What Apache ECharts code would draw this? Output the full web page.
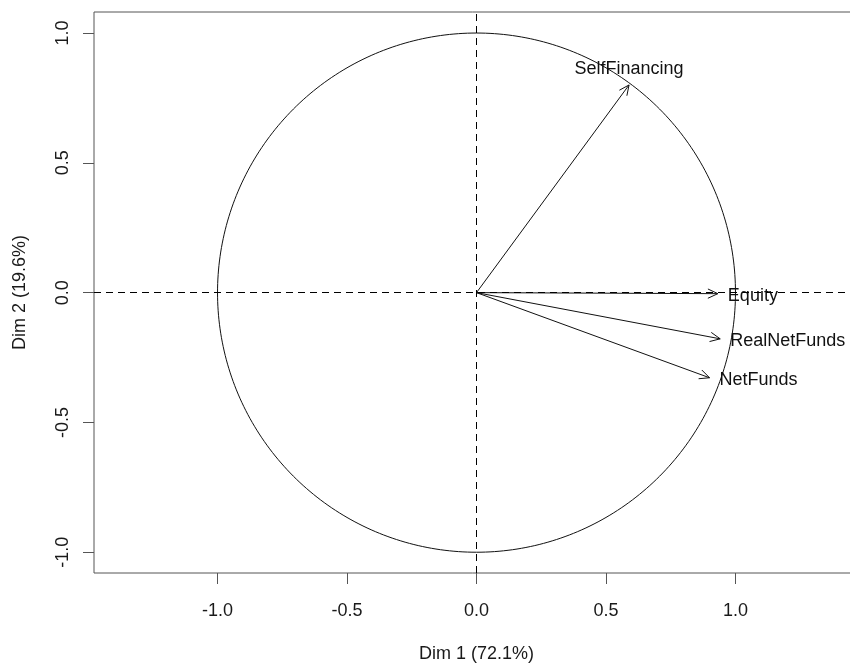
<!DOCTYPE html>
<html>
<head>
<meta charset="utf-8">
<script src="https://cdn.jsdelivr.net/npm/echarts@6/dist/echarts.min.js"></script>
<style>html,body{margin:0;padding:0;background:#fff}#c{width:850px;height:663px}</style>
</head>
<body>
<div id="c"></div>
<script>
var varNames = ['SelfFinancing', 'Equity', 'RealNetFunds', 'NetFunds'];
var dim1 = [0.589, 0.932, 0.941, 0.900];
var dim2 = [0.800, -0.004, -0.178, -0.328];
var tickValues = [-1, -0.5, 0, 0.5, 1];
var xTitle = 'Dim 1 (72.1%)';
var yTitle = 'Dim 2 (19.6%)';
var labelSide = ['top', 'right', 'right', 'right'];

var FONT = 'Liberation Sans, Arial, sans-serif';
var chart = echarts.init(document.getElementById('c'), null, {renderer: 'canvas'});

var arrowData = varNames.map(function (n, i) { return [dim1[i], dim2[i], n, labelSide[i]]; });

function fmt(v) { return v.toFixed(1); }

var option = {
  backgroundColor: '#fff',
  animation: false,
  grid: {left: 94, right: -9, top: 12, bottom: 90, show: true, borderColor: '#555', borderWidth: 1,
         backgroundColor: 'transparent', containLabel: false, outerBoundsMode: 'none'},
  xAxis: {
    type: 'value', min: -1.477, max: 1.477,
    axisLine: {show: false, onZero: false},
    splitLine: {show: false},
    axisTick: {show: true, inside: false, length: 11, lineStyle: {color: '#555'}, customValues: tickValues},
    axisLabel: {customValues: tickValues, formatter: fmt, margin: 29, fontFamily: FONT, fontSize: 18, color: '#1a1a1a'},
    name: xTitle, nameLocation: 'middle', nameGap: 72,
    nameTextStyle: {fontFamily: FONT, fontSize: 18, color: '#1a1a1a'}
  },
  yAxis: {
    type: 'value', min: -1.08, max: 1.081,
    axisLine: {show: false, onZero: false},
    splitLine: {show: false},
    axisTick: {show: true, inside: false, length: 11, lineStyle: {color: '#555'}, customValues: tickValues},
    axisLabel: {customValues: tickValues, formatter: fmt, rotate: 90, margin: 22, fontFamily: FONT, fontSize: 18, color: '#1a1a1a'},
    name: yTitle, nameLocation: 'middle', nameGap: 65, nameRotate: 90,
    nameTextStyle: {fontFamily: FONT, fontSize: 18, color: '#1a1a1a'}
  },
  series: [
    {
      type: 'line', data: [[0, 0]], symbol: 'none', lineStyle: {opacity: 0}, silent: true,
      markLine: {
        symbol: 'none', silent: true, animation: false,
        label: {show: false},
        lineStyle: {type: [7, 5], color: '#000', width: 1},
        data: [{xAxis: 0}, {yAxis: 0}]
      }
    },
    {
      type: 'custom', silent: true, clip: false,
      data: [[0, 0]],
      renderItem: function (params, api) {
        var c = api.coord([0, 0]);
        var r = api.size([1, 1]);
        return {
          type: 'group',
          children: [{
            type: 'polyline',
            shape: {points: (function () {
              var pts = [];
              for (var k = 0; k <= 360; k++) {
                var a = k * Math.PI / 180;
                pts.push([c[0] + r[0] * Math.cos(a), c[1] + r[1] * Math.sin(a)]);
              }
              return pts;
            })()},
            style: {stroke: '#111', lineWidth: 1, fill: null}
          }]
        };
      }
    },
    {
      type: 'custom', silent: true, clip: false,
      data: arrowData,
      renderItem: function (params, api) {
        var p0 = api.coord([0, 0]);
        var p1 = api.coord([api.value(0), api.value(1)]);
        var name = varNames[params.dataIndex];
        var side = labelSide[params.dataIndex];
        var ang = Math.atan2(p1[1] - p0[1], p1[0] - p0[0]);
        var L = 11, h = 25 * Math.PI / 180;
        var a1 = [p1[0] - L * Math.cos(ang - h), p1[1] - L * Math.sin(ang - h)];
        var a2 = [p1[0] - L * Math.cos(ang + h), p1[1] - L * Math.sin(ang + h)];
        var tx, ty, align, vAlign;
        if (side === 'top') { tx = p1[0]; ty = p1[1] - 7; align = 'center'; vAlign = 'bottom'; }
        else { tx = p1[0] + 10; ty = p1[1] + 2; align = 'left'; vAlign = 'middle'; }
        return {
          type: 'group',
          children: [
            {type: 'line', shape: {x1: p0[0], y1: p0[1], x2: p1[0], y2: p1[1]}, style: {stroke: '#111', lineWidth: 1}},
            {type: 'polyline', shape: {points: [a1, p1, a2]}, style: {stroke: '#111', lineWidth: 1, fill: null}},
            {type: 'text', x: tx, y: ty, style: {text: name, x: 0, y: 0, align: align, verticalAlign: vAlign, fontFamily: FONT, fontSize: 18, fill: '#111'}}
          ]
        };
      }
    }
  ]
};
chart.setOption(option);
</script>
</body>
</html>
